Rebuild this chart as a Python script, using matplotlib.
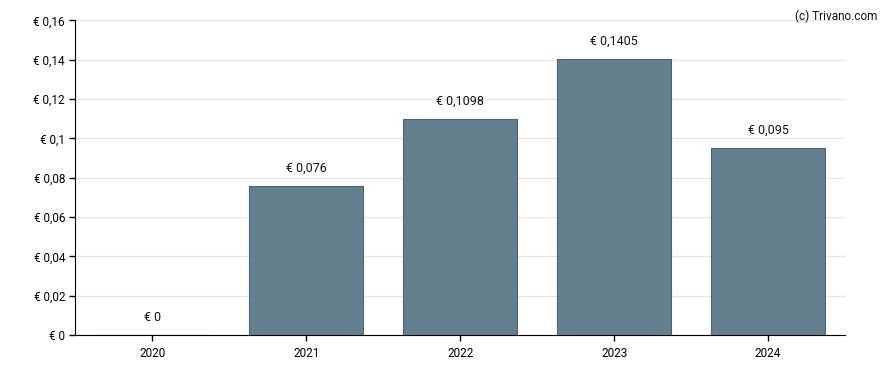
import matplotlib
matplotlib.use("Agg")
import matplotlib.pyplot as plt
from matplotlib.ticker import FuncFormatter, MultipleLocator

plt.rcParams['font.family'] = ['Roboto', 'DejaVu Sans']

years = ["2020", "2021", "2022", "2023", "2024"]
values = [0.0, 0.076, 0.1098, 0.1405, 0.095]
value_labels = ["€ 0", "€ 0,076", "€ 0,1098", "€ 0,1405", "€ 0,095"]

fig = plt.figure(figsize=(8.88, 3.70), dpi=100)
ax = fig.add_axes([0.085, 0.0946, 0.8666, 0.85])

x = range(len(years))
ax.bar(x, values, width=0.74, color='#64808f', edgecolor='#4a6375', linewidth=0.8, zorder=3)

for i, (v, lab) in enumerate(zip(values, value_labels)):
    ax.annotate(lab, (i, v), xytext=(0, 8), textcoords='offset points',
                ha='center', va='bottom', fontsize=9, color='#111111')

ax.set_xlim(-0.5, len(years) - 0.5)
ax.set_ylim(0, 0.16)
ax.yaxis.set_major_locator(MultipleLocator(0.02))
ax.yaxis.set_major_formatter(FuncFormatter(lambda v, p: "€ " + ("{:g}".format(round(v, 4))).replace('.', ',')))
ax.set_xticks(list(x))
ax.set_xticklabels(years)

ax.grid(axis='y', color='#e6e6e6', linewidth=1, zorder=0)
for s in ['top', 'right']:
    ax.spines[s].set_visible(False)
ax.spines['left'].set_color('#000000')
ax.spines['bottom'].set_color('#000000')
ax.tick_params(axis='both', labelsize=8.5, colors='#000000', length=4, width=1)
ax.tick_params(axis='x', pad=5)

fig.text(0.988, 0.975, "(c) Trivano.com", ha='right', va='top', fontsize=8.5, color='#111111')

fig.savefig("out.png", dpi=100)
